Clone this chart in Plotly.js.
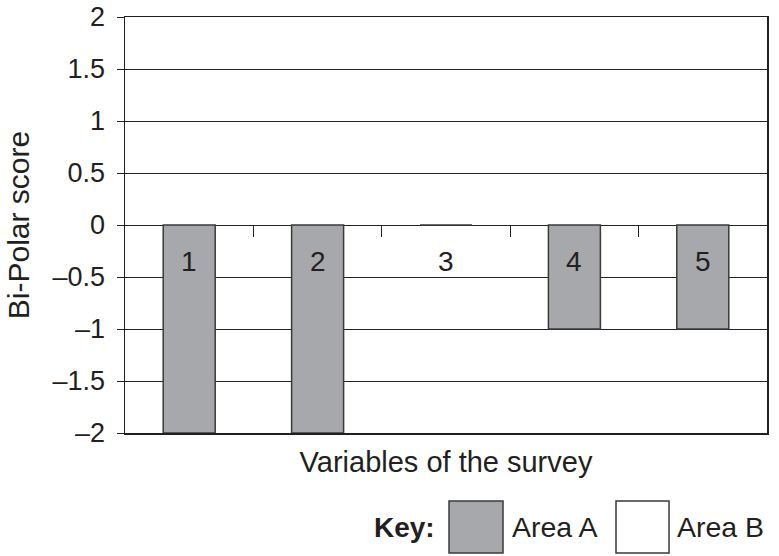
<!DOCTYPE html>
<html>
<head>
<meta charset="utf-8">
<script src="https://cdn.plot.ly/plotly-3.0.1.min.js"></script>
<style>html,body{margin:0;padding:0;background:#fff;}#chart{width:779px;height:556px;}</style>
</head>
<body>
<div id="chart"></div>
<script>
// Data
const categories = [1, 2, 3, 4, 5];
const categoryLabels = ['1', '2', '3', '4', '5'];
const areaA = [-2, -2, 0, -1, -1];
const areaB = [0, 0, 0, 0, 0];
const yTickVals = [-2, -1.5, -1, -0.5, 0, 0.5, 1, 1.5, 2];
const yTickText = ['\u20132', '\u20131.5', '\u20131', '\u20130.5', '0', '0.5', '1', '1.5', '2'];
const boundaryTicks = [1.5, 2.5, 3.5, 4.5];

const FONT = '"Liberation Sans", Arial, Helvetica, sans-serif';
const INK = '#231f20';
const GRAY = '#a7a8ab';

const traces = [
  {
    type: 'bar', name: 'Area A', x: categories, y: areaA, width: 0.405,
    marker: {color: GRAY, line: {color: '#3a3a3a', width: 1.5}},
    showlegend: false, hoverinfo: 'x+y'
  },
  {
    type: 'bar', name: 'Area B', x: categories, y: areaB, width: 0.405,
    marker: {color: '#ffffff', line: {color: '#3a3a3a', width: 0}},
    showlegend: false, hoverinfo: 'x+y'
  },
  {
    type: 'scatter', mode: 'none', x: categories, y: areaB,
    xaxis: 'x2', yaxis: 'y', showlegend: false, hoverinfo: 'skip'
  }
];

const annotations = categories.map((c, i) => ({
  x: c, y: -0.35, xref: 'x', yref: 'y', text: categoryLabels[i],
  showarrow: false, xanchor: 'center', yanchor: 'middle',
  font: {family: FONT, size: 28, color: INK}
}));

// Key (legend) drawn in paper coordinates
annotations.push(
  {x: 0.486, y: -0.226, xref: 'paper', yref: 'paper', text: '<b>Key:</b>', showarrow: false,
   xanchor: 'right', yanchor: 'middle', font: {family: FONT, size: 28, color: INK}},
  {x: 0.600, y: -0.226, xref: 'paper', yref: 'paper', text: 'Area A', showarrow: false,
   xanchor: 'left', yanchor: 'middle', font: {family: FONT, size: 28.5, color: INK}},
  {x: 0.857, y: -0.226, xref: 'paper', yref: 'paper', text: 'Area B', showarrow: false,
   xanchor: 'left', yanchor: 'middle', font: {family: FONT, size: 28.5, color: INK}}
);

const shapes = [
  {type: 'rect', xref: 'paper', yref: 'paper', x0: 0.5047, x1: 0.5888, y0: -0.2885, y1: -0.1635,
   fillcolor: GRAY, line: {color: '#3a3a3a', width: 1.5}},
  {type: 'rect', xref: 'paper', yref: 'paper', x0: 0.7648, x1: 0.8474, y0: -0.2885, y1: -0.1635,
   fillcolor: '#ffffff', line: {color: '#3a3a3a', width: 1.5}}
];

const layout = {
  width: 779, height: 556,
  margin: {l: 125, r: 12, t: 17, b: 123},
  paper_bgcolor: '#ffffff', plot_bgcolor: '#ffffff',
  font: {family: FONT, color: INK, size: 27},
  barmode: 'overlay',
  showlegend: false,
  xaxis: {
    range: [0.5, 5.5], showticklabels: false, ticks: '', showgrid: false, zeroline: false,
    showline: true, mirror: true, linecolor: INK, linewidth: 1.5,
    title: {text: 'Variables of the survey', font: {family: FONT, size: 29, color: INK}, standoff: 18}
  },
  xaxis2: {
    overlaying: 'x', anchor: 'free', position: 0.5, side: 'bottom',
    range: [0.5, 5.5], tickmode: 'array', tickvals: boundaryTicks, showticklabels: false,
    ticks: 'outside', ticklen: 11, tickwidth: 1, tickcolor: INK,
    showgrid: false, zeroline: false, showline: false
  },
  yaxis: {
    range: [-2, 2], tickmode: 'array', tickvals: yTickVals, ticktext: yTickText,
    ticks: 'outside', ticklen: 7, tickwidth: 1, tickcolor: INK, ticklabelstandoff: 6,
    tickfont: {family: FONT, size: 27, color: INK},
    showgrid: true, gridcolor: '#222222', gridwidth: 1, zeroline: false,
    showline: true, mirror: true, linecolor: INK, linewidth: 1.5,
    title: {text: 'Bi-Polar score', font: {family: FONT, size: 30, color: INK}, standoff: 14}
  },
  annotations: annotations,
  shapes: shapes
};

Plotly.newPlot('chart', traces, layout, {staticPlot: true, displayModeBar: false});
</script>
</body>
</html>
